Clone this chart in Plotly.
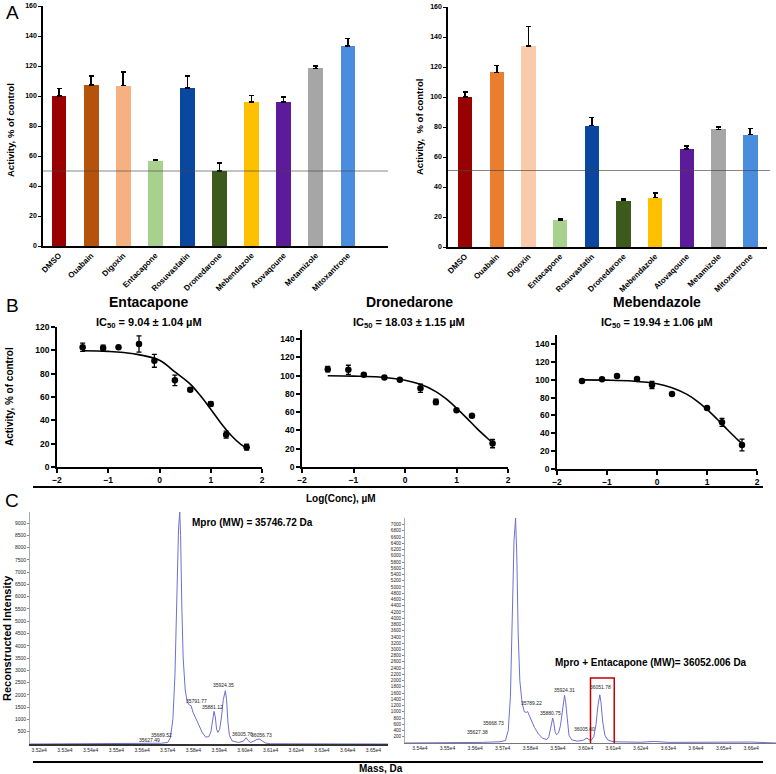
import plotly.graph_objects as go

W, H = 776, 774
FONT = "Arial, Liberation Sans, sans-serif"


def px(x):
    return x / W


def py(y):
    return 1 - y / H


# ---------------- Panel A data ----------------
drugs = ["DMSO", "Ouabain", "Digoxin", "Entacapone", "Rosuvastatin", "Dronedarone",
         "Mebendazole", "Atovaqoune", "Metamizole", "Mitoxantrone"]
screen1_vals = [100, 107.5, 107, 57, 105.5, 50, 96, 96, 118.5, 133.5]
screen1_err = [5, 6, 9, 0.5, 8, 5.5, 4.5, 3.5, 1.5, 5]
screen2_vals = [100, 116.5, 134, 18, 81, 31, 33, 65.5, 78.5, 75]
screen2_err = [3.5, 4.5, 13, 0.7, 5.5, 1, 3, 2, 1.5, 4]
colors1 = ["#990000", "#B5530A", "#F6B183", "#A9D18E", "#0A47A0", "#3B5A1B",
           "#FFC000", "#5D1A99", "#A6A6A6", "#4A8CDE"]
colors2 = ["#990000", "#E97E2E", "#F9CBAA", "#A9D18E", "#0A47A0", "#3B5A1B",
           "#FFC000", "#5D1A99", "#A6A6A6", "#4A8CDE"]
cutoff1 = 50
cutoff2 = 51

# ---------------- Panel B data ----------------
log_conc = [-1.5, -1.1, -0.8, -0.4, -0.1, 0.3, 0.6, 1.0, 1.3, 1.7]
ent_act = [102.6, 102, 102.6, 105.4, 91, 74.3, 66.3, 54, 27.7, 17]
ent_err = [3.5, 2.5, 1, 7, 5.5, 4.5, 1.5, 2, 3, 2.5]
dro_act = [107.1, 106.4, 100.9, 98, 95.4, 86.3, 71.3, 62.2, 56, 25.6]
dro_err = [3, 5, 1, 1, 1, 4.5, 3, 1, 1, 4.5]
meb_log_conc = [-1.5, -1.1, -0.8, -0.4, -0.1, 0.3, 1.0, 1.3, 1.7]
meb_act = [98.5, 100.4, 104.1, 100.7, 94, 84, 68.3, 52.2, 26.9]
meb_err = [1, 1, 1, 1, 4, 1, 1, 4.5, 6.5]
fit_x = [-1.5, -1.0, -0.5, 0.0, 0.3, 0.6, 0.8, 1.0, 1.2, 1.4, 1.6, 1.7]
ent_fit = [99.7, 99.1, 97, 91.5, 81.5, 71, 61, 49.5, 37.5, 27, 19, 16.5]
dro_fit = [99.9, 99.5, 98.5, 95, 90.5, 82.5, 74.5, 64.5, 53.5, 42, 31.5, 26.5]
meb_fit = [99.8, 99.5, 98.5, 95.5, 91, 83.5, 76, 66.8, 56, 44.5, 33.5, 28.5]
b_titles = ["Entacapone", "Dronedarone", "Mebendazole"]
b_ic50 = ["IC<sub>50</sub> = 9.04 ± 1.04 µM", "IC<sub>50</sub> = 18.03 ± 1.15 µM",
          "IC<sub>50</sub> = 19.94 ± 1.06 µM"]

# ---------------- Panel C data ----------------
mass1 = [35164, 35600, 35627, 35650, 35675, 35689, 35700, 35710, 35720, 35728, 35736, 35742,
         35746.7, 35750, 35755, 35760, 35768, 35776, 35785, 35791, 35798, 35808, 35820, 35835,
         35848, 35860, 35868, 35874, 35880, 35885, 35890, 35895, 35902, 35909, 35916, 35924,
         35929, 35934, 35940, 35950, 35975, 35995, 36005, 36012, 36022, 36035, 36048, 36057,
         36066, 36080, 36100, 36557]
inten1 = [0, 5, 25, 10, 30, 50, 60, 250, 1000, 2800, 6000, 8800,
          9450, 8500, 5500, 3500, 2200, 1700, 1580, 1560, 1300, 1050, 750, 450,
          280, 300, 500, 1000, 1330, 1100, 600, 470, 600, 1100, 1800, 2170,
          1800, 900, 350, 130, 60, 120, 260, 150, 60, 120, 190, 200,
          150, 40, 10, 0]
mass2 = [35346, 35550, 35627, 35660, 35690, 35710, 35720, 35728, 35735, 35741, 35746.6, 35751,
         35756, 35762, 35770, 35778, 35786, 35790, 35800, 35815, 35830, 35845, 35860, 35867,
         35873, 35877, 35881, 35885, 35890, 35895, 35902, 35909, 35915, 35920, 35924, 35928,
         35934, 35940, 35950, 35970, 35990, 36000, 36005, 36012, 36020, 36030, 36038, 36045,
         36051.8, 36056, 36062, 36070, 36080, 36100, 36200, 36250, 36300, 36600, 36690]
inten2 = [0, 0, 20, 30, 40, 80, 400, 1500, 3800, 6500, 7210, 6000,
          3500, 2000, 1300, 1000, 980, 1010, 800, 500, 280, 150, 110, 200,
          450, 700, 800, 650, 350, 270, 320, 550, 1000, 1400, 1523, 1300,
          700, 250, 100, 60, 80, 130, 160, 110, 80, 200, 600, 1200,
          1546, 1300, 700, 250, 100, 40, 25, 50, 20, 30, 0]
left_peak_mass = [35627.49, 35689.52, 35746.73, 35791.77, 35881.12, 35924.35, 36005.76, 36056.73]
left_label_y = [164, 369, 9635, 1763, 1517, 2419, 410, 369]
left_label_dx = [0, -4, 0, 5, -2, -2, -4, 2]
right_peak_mass = [35627.38, 35668.73, 35746.60, 35789.22, 35880.75, 35924.31, 36005.60, 36051.78]
right_label_y = [362, 650, 7434, 1290, 970, 1706, 458, 1802]
right_label_dx = [-5, -1, -2, 4.5, -2, 0, -3, 1]
left_yticks = list(range(500, 9001, 500))
right_yticks = list(range(200, 7001, 200))
left_xticks = list(range(35200, 36501, 100))
right_xticks = list(range(35400, 36601, 100))
adduct_box = [36018, 36104, -30, 2080]

fig = go.Figure()

# ---- Panel A bars ----
for vals, errs, cols, xa, ya in [(screen1_vals, screen1_err, colors1, "x", "y"),
                                 (screen2_vals, screen2_err, colors2, "x2", "y2")]:
    fig.add_trace(go.Bar(
        x=drugs, y=vals, marker=dict(color=cols, line=dict(width=0)), width=0.46,
        error_y=dict(type="data", array=errs, arrayminus=[0] * len(errs), symmetric=False,
                     color="black", thickness=1.5, width=2.5),
        xaxis=xa, yaxis=ya, showlegend=False))

# ---- Panel B dose-response ----
for xs, ys, es, fit, xa, ya in [(log_conc, ent_act, ent_err, ent_fit, "x3", "y3"),
                                (log_conc, dro_act, dro_err, dro_fit, "x4", "y4"),
                                (meb_log_conc, meb_act, meb_err, meb_fit, "x5", "y5")]:
    fig.add_trace(go.Scatter(x=fit_x, y=fit, mode="lines", line=dict(color="black", width=1.6, shape="spline"),
                             xaxis=xa, yaxis=ya, showlegend=False))
    fig.add_trace(go.Scatter(x=xs, y=ys, mode="markers", marker=dict(color="black", size=6.5),
                             error_y=dict(type="data", array=es, color="black", thickness=1.3, width=2.5),
                             xaxis=xa, yaxis=ya, showlegend=False))

# ---- Panel C spectra ----
fig.add_trace(go.Scatter(x=mass1, y=inten1, mode="lines", line=dict(color="#6F6FD2", width=1),
                         xaxis="x6", yaxis="y6", showlegend=False))
fig.add_trace(go.Scatter(x=mass2, y=inten2, mode="lines", line=dict(color="#6F6FD2", width=1),
                         xaxis="x7", yaxis="y7", showlegend=False))


def base_axis(**kw):
    d = dict(showline=True, linecolor="black", linewidth=1.5, showgrid=False, zeroline=False,
             ticks="outside", tickcolor="black", automargin=False)
    d.update(kw)
    return d


boldf = lambda s: dict(family=FONT, size=s, color="black", weight="bold")
tinyf = dict(family=FONT, size=5, color="#222")

layout = dict(
    width=W, height=H, margin=dict(l=0, r=0, t=0, b=0),
    paper_bgcolor="white", plot_bgcolor="rgba(0,0,0,0)", showlegend=False,
    font=dict(family=FONT, color="black"), bargap=0,
    # A left
    xaxis=base_axis(domain=[px(43), px(388)], anchor="y", type="category", range=[-0.5, 10.25],
                    ticks="", tickangle=-45, tickfont=boldf(8)),
    yaxis=base_axis(domain=[py(246), py(6)], anchor="x", range=[0, 160], dtick=20, ticklen=3,
                    tickwidth=1.2, tickfont=boldf(7)),
    # A right
    xaxis2=base_axis(domain=[px(448), px(767)], anchor="y2", type="category", range=[-0.54, 9.53],
                     ticks="", tickangle=-45, tickfont=boldf(8)),
    yaxis2=base_axis(domain=[py(247), py(7)], anchor="x2", range=[0, 160], dtick=20, ticklen=3,
                     tickwidth=1.2, tickfont=boldf(7)),
    # B
    xaxis3=base_axis(domain=[px(57), px(262)], anchor="y3", range=[-2, 2], dtick=1, ticklen=4,
                     tickwidth=1.5, tickfont=boldf(8.5)),
    yaxis3=base_axis(domain=[py(467), py(327)], anchor="x3", range=[0, 120], dtick=20, ticklen=4,
                     tickwidth=1.5, tickfont=boldf(8.5)),
    xaxis4=base_axis(domain=[px(302), px(508)], anchor="y4", range=[-2, 2], dtick=1, ticklen=4,
                     tickwidth=1.5, tickfont=boldf(8.5)),
    yaxis4=base_axis(domain=[py(467), py(330)], anchor="x4", range=[0, 150],
                     tickvals=list(range(0, 141, 20)), ticklen=4, tickwidth=1.5, tickfont=boldf(8.5)),
    xaxis5=base_axis(domain=[px(557), px(757)], anchor="y5", range=[-2, 2], dtick=1, ticklen=4,
                     tickwidth=1.5, tickfont=boldf(8.5)),
    yaxis5=base_axis(domain=[py(469), py(335)], anchor="x5", range=[0, 150],
                     tickvals=list(range(0, 141, 20)), ticklen=4, tickwidth=1.5, tickfont=boldf(8.5)),
    # C
    xaxis6=base_axis(domain=[px(30), px(388)], anchor="y6", range=[35164, 36557],
                     tickvals=left_xticks, ticktext=[f"{v/1e4:.2f}e4" for v in left_xticks],
                     ticks="", linecolor="#333", linewidth=2, tickfont=tinyf),
    yaxis6=base_axis(domain=[py(744), py(512)], anchor="x6", range=[0, 9450], tickvals=left_yticks,
                     ticklen=2, tickwidth=0.6, tickcolor="#888", linecolor="#aaa", linewidth=1,
                     tickfont=tinyf),
    xaxis7=base_axis(domain=[px(405), px(776)], anchor="y7", range=[35346, 36690],
                     tickvals=right_xticks, ticktext=[f"{v/1e4:.2f}e4" for v in right_xticks],
                     ticks="", linecolor="#777", linewidth=1, tickfont=tinyf),
    yaxis7=base_axis(domain=[py(743), py(518)], anchor="x7", range=[0, 7210], tickvals=right_yticks,
                     ticklen=2, tickwidth=0.6, tickcolor="#888", linecolor="#aaa", linewidth=1,
                     tickfont=dict(family=FONT, size=4.6, color="#222")),
)
fig.update_layout(**layout)

shapes = [
    dict(type="line", xref="x domain", yref="y", x0=0, x1=1, y0=cutoff1, y1=cutoff1,
         line=dict(color="rgba(70,70,70,0.65)", width=1), layer="above"),
    dict(type="line", xref="x2 domain", yref="y2", x0=0, x1=1.01, y0=cutoff2, y1=cutoff2,
         line=dict(color="rgba(70,70,70,0.65)", width=1), layer="above"),
    dict(type="line", xref="paper", yref="paper", x0=px(33), x1=px(763), y0=py(487), y1=py(487),
         line=dict(color="black", width=2)),
    dict(type="line", xref="paper", yref="paper", x0=px(33), x1=px(763), y0=py(762), y1=py(762),
         line=dict(color="black", width=2)),
    dict(type="rect", xref="x7", yref="y7", x0=adduct_box[0], x1=adduct_box[1],
         y0=adduct_box[2], y1=adduct_box[3], line=dict(color="#C00000", width=1.5), layer="above"),
]
fig.update_layout(shapes=shapes)

ann = []


def paper_text(x, y, text, size, bold=True, angle=0, xanchor="center", yanchor="middle"):
    ann.append(dict(x=px(x), y=py(y), xref="paper", yref="paper", text=text, showarrow=False,
                    textangle=angle, xanchor=xanchor, yanchor=yanchor,
                    font=dict(family=FONT, size=size, color="black", weight="bold" if bold else "normal")))


paper_text(12, 13, "A", 19, bold=False)
paper_text(12, 305, "B", 19, bold=False)
paper_text(12, 500, "C", 19, bold=False)
paper_text(10, 130, "Activity, % of control", 9.5, angle=-90)
paper_text(419, 127, "Activity,  % of control", 9.5, angle=-90)
paper_text(10, 397, "Activity, % of control", 10, angle=-90)
for cx, t, ic in zip([149, 409, 657], b_titles, b_ic50):
    paper_text(cx, 302, t, 14)
    paper_text(cx, 323, ic, 11)
paper_text(341, 498, "Log(Conc), µM", 10)
paper_text(7, 638, "Reconstructed Intensity", 11, angle=-90)
paper_text(381, 768, "Mass, Da", 10)
paper_text(190, 522, "Mpro (MW) = 35746.72 Da", 10, xanchor="left")
paper_text(553, 662, "Mpro + Entacapone (MW)= 36052.006 Da", 10, xanchor="left")

for m, yl, dx in zip(left_peak_mass, left_label_y, left_label_dx):
    ann.append(dict(x=m, y=yl, xref="x6", yref="y6", text=f"{m:.2f}", showarrow=False, xshift=dx,
                    font=tinyf))
for m, yl, dx in zip(right_peak_mass, right_label_y, right_label_dx):
    ann.append(dict(x=m, y=yl, xref="x7", yref="y7", text=f"{m:.2f}", showarrow=False, xshift=dx,
                    font=tinyf))
fig.update_layout(annotations=ann)

fig.write_html("out.html", config={"displayModeBar": False},
               post_script="document.body.style.margin='0';")
